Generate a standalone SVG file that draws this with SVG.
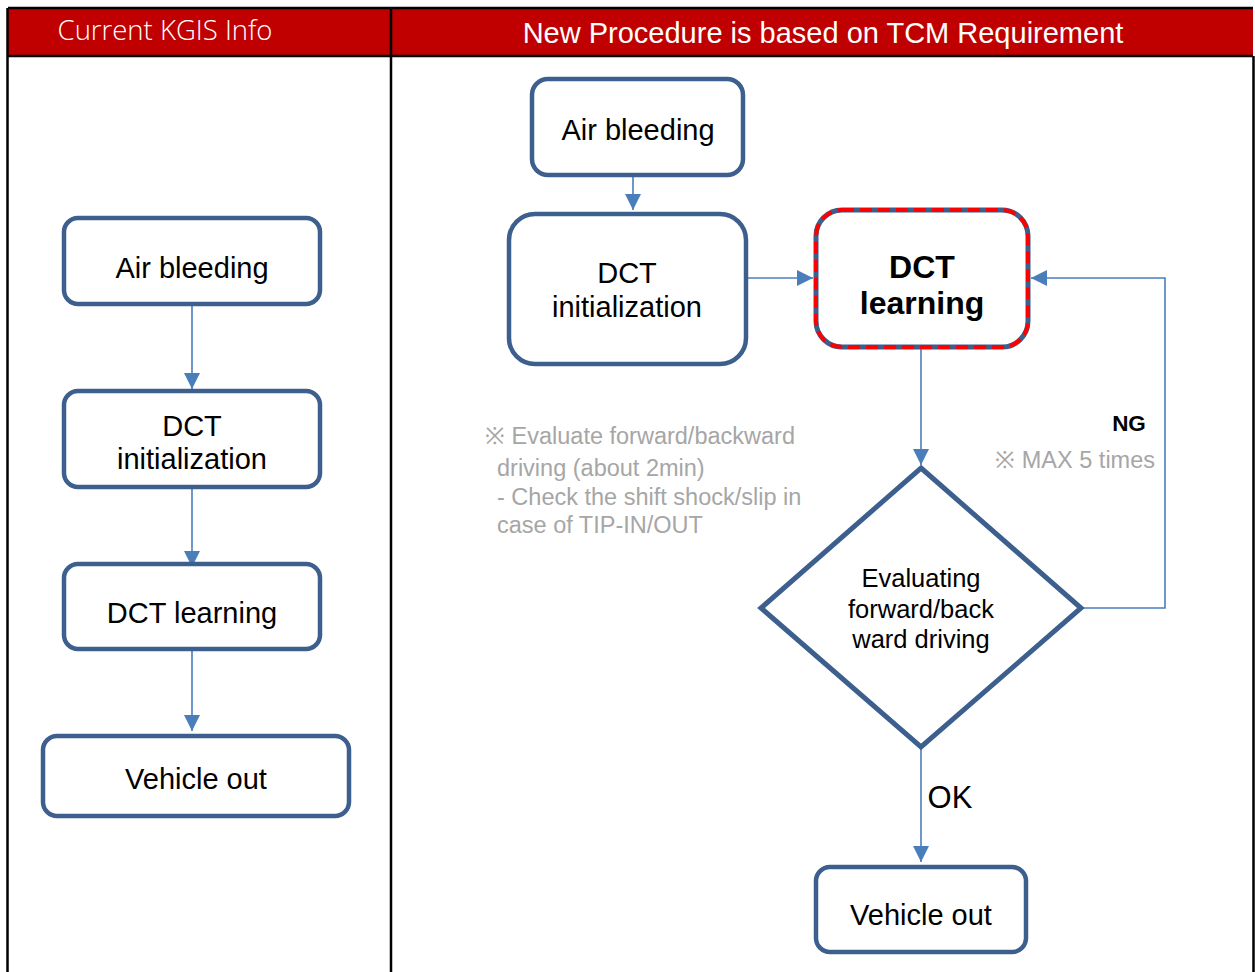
<svg xmlns="http://www.w3.org/2000/svg" width="1255" height="972" viewBox="0 0 1255 972">
<defs>
<marker id="ah2" viewBox="0 0 10 10" refX="10" refY="5" markerWidth="16" markerHeight="16" markerUnits="userSpaceOnUse" orient="auto"><path d="M0,0 L10,5 L0,10 z" fill="#4a7ebb"/></marker>
</defs>
<style>
.box{fill:#fff;stroke:#3d5f8e;stroke-width:4.5}
.t{font-family:"Liberation Sans",Arial,sans-serif;font-size:29px;fill:#000;text-anchor:middle}
.b{font-weight:bold;font-size:32px}
.d{font-size:25.5px}
.g{font-family:"Liberation Sans",Arial,sans-serif;font-size:23.5px;fill:#a6a6a6}
.c{fill:none;stroke:#4a7ebb;stroke-width:1.6;marker-end:url(#ah2)}
</style>
<rect width="1255" height="972" fill="#fff"/>
<g id="table">
<rect x="8" y="8" width="1245" height="48" fill="#c00000"/>
<path d="M8,8 H1253 M8,56 H1253 M7.5,8 V972 M391,8 V972 M1253.5,56 V972" stroke="#000" stroke-width="2.5" fill="none"/>
<text x="165" y="40" font-family="'Open Sans',sans-serif" font-size="27.5" fill="#fff" text-anchor="middle" font-weight="300">Current KGIS Info</text>
<text x="823" y="43" font-family="'Liberation Sans',Arial,sans-serif" font-size="29" fill="#fff" text-anchor="middle">New Procedure is based on TCM Requirement</text>
</g>
<g id="connectors">
<path class="c" d="M192,305 V389"/>
<path class="c" d="M192,487 V567"/>
<path class="c" d="M192,649 V731"/>
<path class="c" d="M633,176 V210"/>
<path class="c" d="M747,278 H813"/>
<path class="c" d="M921,348 V465"/>
<path class="c" d="M1082,608 H1165 V278 H1031"/>
<path class="c" d="M921,747 V862"/>
</g>
<g id="L-air"><rect class="box" x="64" y="218" width="256" height="86" rx="14"/><text class="t" x="192" y="278">Air bleeding</text></g>
<g id="L-init"><rect class="box" x="64" y="391" width="256" height="96" rx="14"/><text class="t" x="192" y="436">DCT</text><text class="t" x="192" y="469">initialization</text></g>
<g id="L-learn"><rect class="box" x="64" y="564" width="256" height="85" rx="14"/><text class="t" x="192" y="623">DCT learning</text></g>
<g id="L-out"><rect class="box" x="43" y="736" width="306" height="80" rx="14"/><text class="t" x="196" y="789">Vehicle out</text></g>
<g id="R-air"><rect class="box" x="532" y="79" width="211" height="96" rx="16"/><text class="t" x="638" y="140">Air bleeding</text></g>
<g id="R-init"><rect class="box" x="509" y="214" width="237" height="150" rx="26"/><text class="t" x="627" y="283">DCT</text><text class="t" x="627" y="317">initialization</text></g>
<g id="R-learn"><rect x="816" y="210" width="212" height="137" rx="26" fill="#fff" stroke="#3d5f8e" stroke-width="5"/><rect x="816" y="210" width="212" height="137" rx="26" fill="none" stroke="#ff0000" stroke-width="4" stroke-dasharray="12,6"/><text class="t b" x="922" y="278">DCT</text><text class="t b" x="922" y="314">learning</text></g>
<g id="R-eval"><path d="M921,468 L1081,608 L921,747 L761,608 Z" fill="#fff" stroke="#3d5f8e" stroke-width="5"/><text class="t d" x="921" y="587">Evaluating</text><text class="t d" x="921" y="618">forward/back</text><text class="t d" x="921" y="648">ward driving</text></g>
<g id="R-out"><rect class="box" x="816" y="867" width="210" height="85" rx="14"/><text class="t" x="921" y="925">Vehicle out</text></g>
<g id="labels">
<text x="1129" y="431" font-family="'Liberation Sans',Arial,sans-serif" font-size="22.5" font-weight="bold" text-anchor="middle">NG</text>
<text class="g" x="1155" y="468" text-anchor="end">※ MAX 5 times</text>
<text class="t" x="950" y="808" style="font-size:31px">OK</text>
<text class="g" x="485" y="444">※ Evaluate forward/backward</text>
<text class="g" x="497" y="476">driving (about 2min)</text>
<text class="g" x="497" y="505">- Check the shift shock/slip in</text>
<text class="g" x="497" y="533">case of TIP-IN/OUT</text>
</g>
</svg>
